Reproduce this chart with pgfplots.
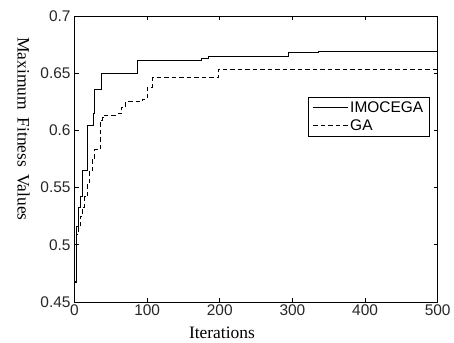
\documentclass[border=0pt]{standalone}
\usepackage{fontspec}
\setmainfont{Liberation Serif}
\newfontfamily\arial{Liberation Sans}
\usepackage{pgfplots}
\pgfplotsset{compat=1.18}
\begin{document}
\begin{tikzpicture}
\begin{axis}[
  scale only axis,
  width=363.2bp, height=286bp,
  xmin=0, xmax=500, ymin=0.45, ymax=0.7,
  xtick={0,100,200,300,400,500},
  ytick={0.45,0.5,0.55,0.6,0.65,0.7},
  yticklabels={0.45,0.5,0.55,0.6,0.65,0.7},
  tick align=inside,
  major tick length=4bp,
  axis line style={black, line width=0.8bp},
  every tick/.style={black, line width=0.8bp},
  /pgf/number format/assume math mode=true,
  tick label style={font=\arial\fontsize{15.5}{16}\selectfont, text=black!85},
  xticklabel style={yshift=0.5bp},
  yticklabel style={xshift=-0.5bp},
  xlabel={Iterations},
  ylabel={Maximum\hspace{0.45em}Fitness\hspace{0.4em}Values},
  label style={font=\fontsize{17.5}{19}\selectfont},
  xlabel style={at={(axis description cs:0.406,-0.128)}, anchor=base},
  ylabel style={at={(axis description cs:-0.1405,0.605)}, anchor=center, rotate=180},
  legend style={at={(axis description cs:0.979,0.718)}, anchor=north east,
    draw=black, line width=0.8bp, fill=white, font=\arial\fontsize{15.5}{16}\selectfont,
    inner xsep=5bp, inner ysep=2.8bp, row sep=3bp,
    nodes={inner sep=1.5bp},
    /tikz/every even column/.append style={column sep=0bp}},
  legend cell align=left,
  legend image code/.code={\draw[#1] (0bp,0bp) -- (35bp,0bp);},
]
\addplot[const plot, black, line width=0.8bp] coordinates {
(1,0.467) (2,0.516) (5,0.533) (8,0.542) (11,0.565) (18,0.604) (26,0.615) (28,0.636)
(37,0.650) (87,0.6615) (175,0.663) (184,0.665) (294,0.6683) (336,0.6694) (500,0.6694)
};
\addlegendentry{IMOCEGA}
\addplot[const plot, black, line width=0.8bp, dash pattern=on 4.5bp off 3bp] coordinates {
(1,0.468) (3,0.509) (5,0.515) (8,0.525) (11,0.533) (14,0.542) (18,0.553) (21,0.565)
(25,0.575) (28,0.583) (36,0.609) (38,0.611) (41,0.6135) (60,0.615) (65,0.62) (70,0.625)
(93,0.627) (100,0.638) (107,0.646) (198,0.6537) (500,0.6537)
};
\addlegendentry{GA}
\end{axis}
\pgfresetboundingbox
\path (current axis.south west) ++(-74.5bp,-41bp) rectangle ++(454bp,343bp);
\end{tikzpicture}
\end{document}
